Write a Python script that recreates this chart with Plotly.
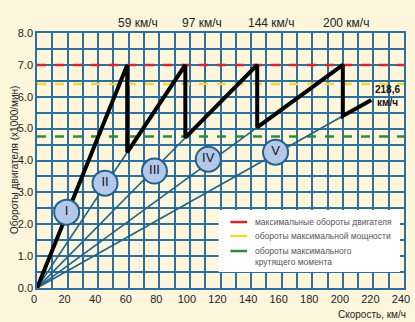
import plotly.graph_objects as go

# ---- data ----
gear_names = ["I", "II", "III", "IV", "V"]
shift_speeds = [59, 97, 144, 200]          # km/h, shift points at max rpm
max_rpm = 7.0                              # x1000 /min
top_speed = 218.6                          # km/h
top_speed_rpm = 5.9                        # rpm in V gear at top speed
power_rpm = 6.4
torque_rpm = 4.75
label_speeds = [19.4, 44.5, 76.8, 112, 156]
label_rpms = [2.38, 3.29, 3.67, 4.04, 4.26]
x_ticks = list(range(0, 241, 20))
y_ticks = [0, 1, 2, 3, 4, 5, 6, 7, 8]
top_labels = ["59 км/ч", "97 км/ч", "144 км/ч", "200 км/ч"]
legend_labels = ["максимальные обороты двигателя",
                 "обороты максимальной мощности",
                 "обороты максимального<br>крутящего момента"]

# gear ratios (rpm per km/h)
ratios = [max_rpm / s for s in shift_speeds] + [top_speed_rpm / top_speed]

BG = "#fdf6dc"
GRID = "#2f6f9e"
GEAR = "#1f628c"
RED = "#d9262c"
YEL = "#f3d53c"
GRN = "#2e8b3a"
FONT = "Liberation Sans"

fig = go.Figure()

# reference rpm lines
for val, col in [(max_rpm, RED), (power_rpm, YEL), (torque_rpm, GRN)]:
    fig.add_trace(go.Scatter(x=[0, 240], y=[val, val], mode="lines",
                             line=dict(color=col, width=2.5, dash="dash"),
                             showlegend=False, hoverinfo="skip"))

# thin gear lines from origin to engagement point
for i in range(1, 5):
    s = shift_speeds[i - 1]
    fig.add_trace(go.Scatter(x=[0, s], y=[0, s * ratios[i]], mode="lines",
                             line=dict(color=GEAR, width=1.6),
                             showlegend=False, hoverinfo="skip"))

# black acceleration saw-tooth
px, py = [0], [0]
for i, s in enumerate(shift_speeds):
    px += [s, s]
    py += [s * ratios[i], s * ratios[i + 1]]
px.append(top_speed)
py.append(top_speed * ratios[4])
fig.add_trace(go.Scatter(x=px, y=py, mode="lines",
                         line=dict(color="black", width=4),
                         showlegend=False, hoverinfo="skip"))

# gear circles
fig.add_trace(go.Scatter(x=label_speeds, y=label_rpms, mode="markers+text",
                         text=gear_names, textposition="middle center",
                         textfont=dict(family=FONT, size=13, color="#111"),
                         marker=dict(size=25, color="#b4c9ea",
                                     line=dict(color=GEAR, width=2)),
                         showlegend=False, hoverinfo="skip"))

annotations = []
for s, t, dx in zip(shift_speeds, top_labels, [11, 17, 14, 3]):
    annotations.append(dict(x=s, xref="x", y=1, yref="paper", yshift=19,
                            text=t, showarrow=False, xshift=dx,
                            font=dict(family=FONT, size=12, color="#222")))
annotations.append(dict(x=top_speed, y=top_speed * ratios[4], xref="x", yref="y",
                        text="<b>218,6<br>км/ч</b>", showarrow=False,
                        xanchor="left", yanchor="middle", xshift=2, yshift=4,
                        align="center",
                        font=dict(family=FONT, size=10, color="#111")))
annotations.append(dict(x=0, xref="paper", y=0.5, yref="paper", xshift=-30,
                        text="Обороты двигателя (x1000/мин)", textangle=-90,
                        showarrow=False,
                        font=dict(family=FONT, size=10, color="#222")))
annotations.append(dict(x=1, xref="paper", y=0, yref="paper", xshift=4,
                        yshift=-26, xanchor="right", yanchor="middle",
                        text="Скорость, км/ч", showarrow=False,
                        font=dict(family=FONT, size=10, color="#222")))

# manual legend
shapes = [dict(type="rect", xref="x", yref="y", x0=118.7, x1=237.4,
               y0=0.5, y1=2.45, fillcolor="white", line=dict(width=0),
               layer="above")]
leg_y = [2.07, 1.63, 1.16]
for yv, col, txt in zip(leg_y, [RED, YEL, GRN], legend_labels):
    shapes.append(dict(type="line", xref="x", yref="y", x0=126.5, x1=137.4,
                       y0=yv, y1=yv, line=dict(color=col, width=2.5),
                       layer="above"))
    annotations.append(dict(x=141.5, y=yv, xref="x", yref="y", text=txt,
                            xanchor="left", yanchor="top" if "<br>" in txt else "middle",
                            yshift=7 if "<br>" in txt else 0,
                            align="left", showarrow=False,
                            font=dict(family=FONT, size=8.5, color="#555")))

fig.update_layout(
    width=415, height=322,
    margin=dict(l=37, r=5, t=33, b=34),
    paper_bgcolor=BG, plot_bgcolor=BG,
    showlegend=False,
    annotations=annotations, shapes=shapes,
    xaxis=dict(range=[0, 240], tickvals=x_ticks, showgrid=True,
               gridcolor=GRID, gridwidth=1.5, zeroline=False,
               showline=True, linecolor=GRID, linewidth=1.5, mirror=True,
               minor=dict(dtick=10, showgrid=True, gridcolor=GRID, gridwidth=1.5),
               ticklabelshift=-3, ticklabeloverflow="allow",
               tickfont=dict(family=FONT, size=11, color="#222"), ticks=""),
    yaxis=dict(range=[0, 8], tickvals=y_ticks, tickformat=".1f",
               showgrid=True, gridcolor=GRID, gridwidth=1.5, zeroline=False,
               showline=True, linecolor=GRID, linewidth=1.5, mirror=True,
               minor=dict(dtick=0.5, showgrid=True, gridcolor=GRID, gridwidth=1.5),
               tickfont=dict(family=FONT, size=11, color="#222"), ticks=""),
)

fig.write_html("out.html")
